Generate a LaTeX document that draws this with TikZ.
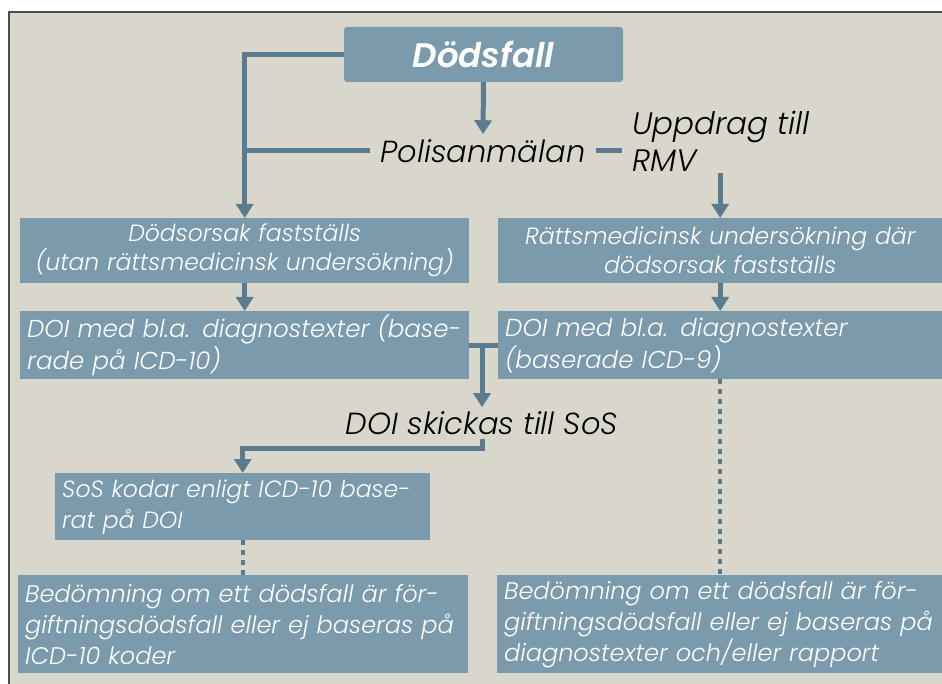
\documentclass[tikz,border=0pt]{standalone}
\usepackage{fontspec}
\setmainfont{Poppins}[UprightFont=* Light, ItalicFont=* Light Italic, BoldFont=* SemiBold, BoldItalicFont=* SemiBold Italic]
\usetikzlibrary{arrows.meta,positioning}

\definecolor{slide}{HTML}{D9D7CB}
\definecolor{boxfill}{HTML}{7B9AAB}
\definecolor{conncol}{HTML}{5B7B8E}

\tikzset{
  box/.style={fill=boxfill, text=white, font=\itshape\fontsize{23.5}{29}\selectfont,
    align=center, inner sep=0pt, anchor=north west},
  leftbox/.style={box, align=left, inner xsep=7pt, font=\itshape\fontsize{24.5}{32}\selectfont},
  bottombox/.style={leftbox, text width=#1, minimum height=98pt, font=\itshape\fontsize{24}{31}\selectfont},
  titlebox/.style={fill=boxfill, text=white, rounded corners=3pt, inner sep=0pt,
    font=\bfseries\itshape\fontsize{34}{34}\selectfont},
  plain/.style={font=\itshape\fontsize{30.5}{36}\selectfont, text=black},
  conn/.style={draw=conncol, line width=5pt},
  arr/.style={conn, -{Triangle[width=17pt,length=14pt]}},
  dots/.style={draw=conncol, line width=4pt, dash pattern=on 5pt off 5pt}
}

\begin{document}
\begin{tikzpicture}[x=1pt,y=-1pt]
\useasboundingbox (0,0) rectangle (942,684);
\fill[slide] (9,12) rectangle (942,684);
\draw[black!70, line width=1.5pt] (9,684) -- (9,12) -- (942,12);

\node[titlebox, minimum width=279pt, minimum height=55pt] (fall) at (483.5,54.5) {Dödsfall};
\node[plain, inner xsep=10pt, inner ysep=5pt] (polis) at (483,151) {Polisanmälan};
\node[plain, font=\itshape\fontsize{31}{37}\selectfont, align=left, anchor=west, inner xsep=10pt, inner ysep=2pt] (rmv) at (622,141) {Uppdrag till\\RMV};

\node[box, text width=449pt, minimum height=65pt] (orsak) at (20,218)
  {Dödsorsak fastställs\\(utan rättsmedicinsk undersökning)};
\node[box, text width=444pt, minimum height=65pt] (ratt) at (498,218)
  {Rättsmedicinsk undersökning där\\dödsorsak fastställs};

\node[leftbox, text width=435pt, minimum height=68pt] (doiL) at (20,311)
  {DOI med bl.a. diagnostexter (base-\\rade på ICD-10)};
\node[leftbox, text width=430pt, minimum height=68pt] (doiR) at (498,311)
  {DOI med bl.a. diagnostexter\\(baserade ICD-9)};

\node[plain, inner sep=4pt] (skick) at (482,423) {DOI skickas till SoS};

\node[leftbox, text width=361pt, minimum height=67pt, font=\itshape\fontsize{23.5}{31}\selectfont] (sos) at (55,473)
  {SoS kodar enligt ICD-10 base-\\rat på DOI};

\node[bottombox=436pt] (bedL) at (18,575)
  {Bedömning om ett dödsfall är för-\\giftningsdödsfall eller ej baseras på\\ICD-10 koder};
\node[bottombox=431pt] (bedR) at (497,575)
  {Bedömning om ett dödsfall är för-\\giftningsdödsfall eller ej baseras på\\diagnostexter och/eller rapport};

% top part
\draw[arr] (fall.south) -- (polis.north);
\draw[arr] (fall.west) -| (orsak.north);
\draw[conn] (polis.west) -- (polis.west -| orsak.north);
\draw[conn] (polis.east) -- (rmv.west |- polis.east);
\draw[arr] (rmv.south -| ratt.north) -- (ratt.north);

% middle
\draw[arr] (orsak.south) -- (doiL.north);
\draw[arr] (ratt.south) -- (doiR.north);
\draw[conn] (doiL.east) -- (doiR.west);
\draw[arr] (skick.north |- doiL.east) -- (skick.north);
\draw[arr] (skick.south) -- ++(0,10) -| (sos.north);

% dotted
\draw[dots] (sos.south) -- (sos.south |- bedL.north);
\draw[dots] (doiR.south) -- (doiR.south |- bedR.north);
\end{tikzpicture}
\end{document}
